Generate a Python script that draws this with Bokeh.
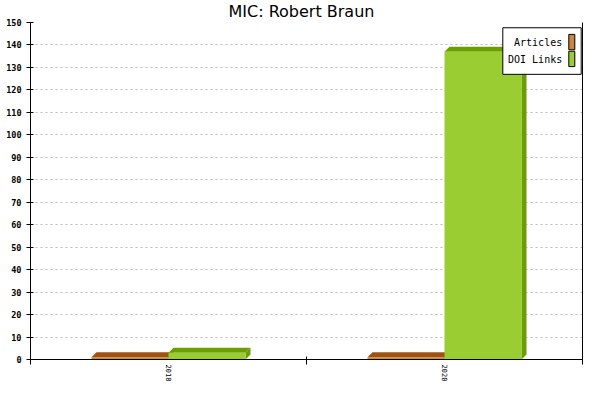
from bokeh.plotting import figure
from bokeh.models import Range1d, FixedTicker, LinearAxis
from bokeh.embed import file_html
from bokeh.resources import INLINE
from bokeh.core.properties import value

# ---- data ----
years = ["2018", "2020"]
articles = [1, 1]
doi_links = [3, 137]
series_names = ["Articles", "DOI Links"]
y_ticks = list(range(0, 151, 10))

# ---- styles ----
front_colors = ["#CD853F", "#9ACD32"]
dark_colors = ["#9B5412", "#6B9E00"]
MONO = "DejaVu Sans Mono"

W, H = 584, 384
ML, MR, MT, MB = 30, 2, 22, 22
frame_w = W - ML - MR
frame_h = H - MT - MB
X0, X1, Y0, Y1 = 0, 2, 0, 150


def dx_px(px):
    return px * (X1 - X0) / frame_w


def dy_px(px):
    return px * (Y1 - Y0) / frame_h


def sx(px):  # pixel x on canvas -> data x
    return X0 + dx_px(px - ML)


def sy(py):  # pixel y on canvas -> data y
    return Y0 + dy_px(H - MB - py)


depth = 5
ddx, ddy = dx_px(depth), dy_px(depth)
bar_w = dx_px(77)

p = figure(width=W, height=H, output_backend="svg", toolbar_location=None,
           x_range=Range1d(X0, X1), y_range=Range1d(Y0, Y1),
           min_border_left=ML, min_border_right=MR, min_border_top=MT,
           min_border_bottom=MB, title="MIC: Robert Braun")
p.outline_line_color = None
p.background_fill_color = "white"
p.border_fill_color = "white"

p.title.text_font = "DejaVu Sans"
p.title.text_font_size = "16px"
p.title.text_font_style = "normal"
p.title.text_color = "black"
p.title.align = "left"
p.title.offset = 198
p.title.vertical_align = "top"
p.title.standoff = 0

# grid
p.xgrid.visible = False
p.ygrid.ticker = FixedTicker(ticks=y_ticks, minor_ticks=[])
p.ygrid.grid_line_color = "#bbbbbb"
p.ygrid.grid_line_dash = "2 3"
p.ygrid.grid_line_width = 1

# y axis
ya = p.yaxis[0]
ya.ticker = FixedTicker(ticks=y_ticks, minor_ticks=[])
ya.axis_line_color = "black"
ya.major_tick_line_color = "black"
ya.major_tick_in = 3
ya.major_tick_out = 4
ya.minor_tick_line_color = None
ya.major_label_standoff = 5
ya.major_label_text_font = MONO
ya.major_label_text_font_size = "8.5px"
ya.major_label_text_font_style = "bold"
ya.major_label_text_color = "black"

# x axis
centers = [i + 0.5 for i in range(len(years))]
xa = p.xaxis[0]
xa.ticker = FixedTicker(ticks=centers, minor_ticks=[float(i) for i in range(len(years) + 1)])
xa.major_label_overrides = {c: y for c, y in zip(centers, years)}
xa.axis_line_color = "black"
xa.major_tick_line_color = None
xa.major_tick_in = 0
xa.major_tick_out = 0
xa.minor_tick_line_color = "black"
xa.minor_tick_in = 3
xa.minor_tick_out = 5
xa.major_label_orientation = "vertical"
xa.major_label_standoff = 0
xa.major_label_text_font = MONO
xa.major_label_text_font_size = "7px"
xa.major_label_text_color = "black"

# right border axis
ra = LinearAxis(ticker=FixedTicker(ticks=[], minor_ticks=[]))
ra.axis_line_color = "black"
ra.major_tick_line_color = None
ra.minor_tick_line_color = None
ra.major_label_text_font_size = "0px"
ra.major_label_standoff = 0
ra.major_tick_out = 0
ra.major_tick_in = 0
p.add_layout(ra, "right")

# ---- 3D bars ----
for s, vals in enumerate([articles, doi_links]):
    fx_l, fx_r, tops = [], [], []
    top_xs, top_ys, side_xs, side_ys = [], [], [], []
    for c, v in zip(centers, vals):
        l = c - bar_w + s * bar_w
        r = l + bar_w
        fx_l.append(l); fx_r.append(r); tops.append(v)
        top_xs.append([l, l + ddx, r + ddx, r])
        top_ys.append([v, v + ddy, v + ddy, v])
        side_xs.append([r, r + ddx, r + ddx, r])
        side_ys.append([0, ddy, v + ddy, v])
    p.patches(side_xs, side_ys, fill_color=dark_colors[s], line_color=None)
    p.patches(top_xs, top_ys, fill_color=dark_colors[s], line_color=None)
    p.quad(left=fx_l, right=fx_r, bottom=[0] * len(vals), top=tops,
           fill_color=front_colors[s], line_color=None)

# ---- legend (text left of swatch, as in the reference) ----
p.quad(left=[sx(502.3)], right=[sx(580.7)], top=[sy(27.3)], bottom=[sy(74.3)],
       fill_color="white", line_color="black", line_width=1)
sw_top_px = [34.0, 51.0]
for s, name in enumerate(series_names):
    t = sw_top_px[s]
    p.quad(left=[sx(568.3)], right=[sx(574.3)], top=[sy(t)], bottom=[sy(t + 15.5)],
           fill_color=front_colors[s], line_color="black", line_width=1)
    p.text(x=[sx(561.7)], y=[sy(t + 8.5)], text=[name],
           text_font=value(MONO), text_font_size="10px", text_align="right",
           text_baseline="middle", text_color="black")

open("out.html", "w").write(file_html(p, INLINE))
